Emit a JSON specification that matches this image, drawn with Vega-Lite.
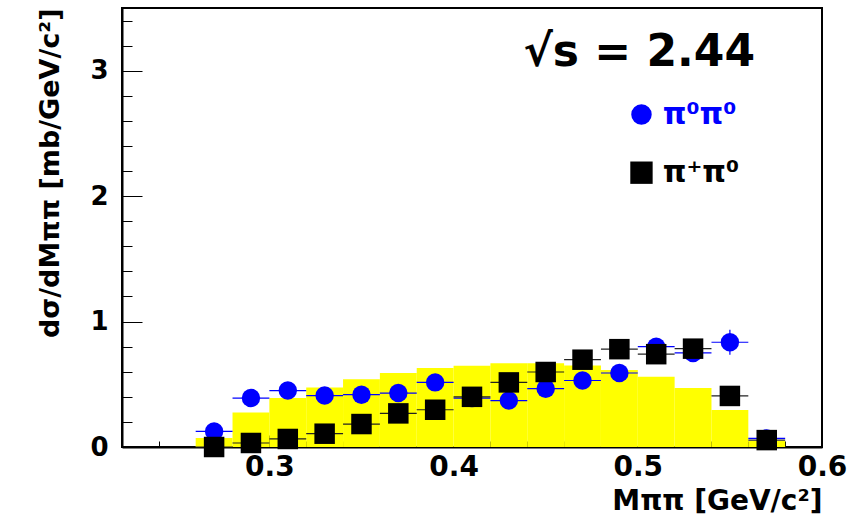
{
  "$schema": "https://vega.github.io/schema/vega-lite/v6.json",
  "width": 700,
  "height": 439,
  "autosize": {"type": "none"},
  "padding": {"left": 122, "top": 8, "right": 28, "bottom": 78},
  "background": "white",
  "config": {"view": {"stroke": "#000", "strokeWidth": 2}, "font": "DejaVu Sans"},
  "datasets": {
    "hist": [
      {"lo": 0.26, "hi": 0.28, "sim": 0.072},
      {"lo": 0.28, "hi": 0.30, "sim": 0.275},
      {"lo": 0.30, "hi": 0.32, "sim": 0.39},
      {"lo": 0.32, "hi": 0.34, "sim": 0.475},
      {"lo": 0.34, "hi": 0.36, "sim": 0.54},
      {"lo": 0.36, "hi": 0.38, "sim": 0.59},
      {"lo": 0.38, "hi": 0.40, "sim": 0.63},
      {"lo": 0.40, "hi": 0.42, "sim": 0.648},
      {"lo": 0.42, "hi": 0.44, "sim": 0.668},
      {"lo": 0.44, "hi": 0.46, "sim": 0.668},
      {"lo": 0.46, "hi": 0.48, "sim": 0.65},
      {"lo": 0.48, "hi": 0.50, "sim": 0.614},
      {"lo": 0.50, "hi": 0.52, "sim": 0.56},
      {"lo": 0.52, "hi": 0.54, "sim": 0.47},
      {"lo": 0.54, "hi": 0.56, "sim": 0.295},
      {"lo": 0.56, "hi": 0.58, "sim": 0.05}
    ],
    "neutral": [
      {"m": 0.27, "lo": 0.26, "hi": 0.28, "v": 0.124, "elo": 0.084, "ehi": 0.164},
      {"m": 0.29, "lo": 0.28, "hi": 0.30, "v": 0.39, "elo": 0.35, "ehi": 0.43},
      {"m": 0.31, "lo": 0.30, "hi": 0.32, "v": 0.45, "elo": 0.41, "ehi": 0.49},
      {"m": 0.33, "lo": 0.32, "hi": 0.34, "v": 0.41, "elo": 0.37, "ehi": 0.45},
      {"m": 0.35, "lo": 0.34, "hi": 0.36, "v": 0.417, "elo": 0.377, "ehi": 0.457},
      {"m": 0.37, "lo": 0.36, "hi": 0.38, "v": 0.43, "elo": 0.39, "ehi": 0.47},
      {"m": 0.39, "lo": 0.38, "hi": 0.40, "v": 0.515, "elo": 0.475, "ehi": 0.555},
      {"m": 0.41, "lo": 0.40, "hi": 0.42, "v": 0.39, "elo": 0.35, "ehi": 0.43},
      {"m": 0.43, "lo": 0.42, "hi": 0.44, "v": 0.37, "elo": 0.33, "ehi": 0.41},
      {"m": 0.45, "lo": 0.44, "hi": 0.46, "v": 0.465, "elo": 0.425, "ehi": 0.505},
      {"m": 0.47, "lo": 0.46, "hi": 0.48, "v": 0.53, "elo": 0.48, "ehi": 0.58},
      {"m": 0.49, "lo": 0.48, "hi": 0.50, "v": 0.59, "elo": 0.54, "ehi": 0.64},
      {"m": 0.51, "lo": 0.50, "hi": 0.52, "v": 0.80, "elo": 0.74, "ehi": 0.86},
      {"m": 0.53, "lo": 0.52, "hi": 0.54, "v": 0.75, "elo": 0.69, "ehi": 0.81},
      {"m": 0.55, "lo": 0.54, "hi": 0.56, "v": 0.835, "elo": 0.735, "ehi": 0.935},
      {"m": 0.57, "lo": 0.56, "hi": 0.58, "v": 0.068, "elo": 0.038, "ehi": 0.098}
    ],
    "charged": [
      {"m": 0.27, "lo": 0.26, "hi": 0.28, "v": 0.0, "elo": 0.0, "ehi": 0.02},
      {"m": 0.29, "lo": 0.28, "hi": 0.30, "v": 0.032, "elo": 0.012, "ehi": 0.052},
      {"m": 0.31, "lo": 0.30, "hi": 0.32, "v": 0.064, "elo": 0.044, "ehi": 0.084},
      {"m": 0.33, "lo": 0.32, "hi": 0.34, "v": 0.106, "elo": 0.08, "ehi": 0.132},
      {"m": 0.35, "lo": 0.34, "hi": 0.36, "v": 0.183, "elo": 0.153, "ehi": 0.213},
      {"m": 0.37, "lo": 0.36, "hi": 0.38, "v": 0.268, "elo": 0.238, "ehi": 0.298},
      {"m": 0.39, "lo": 0.38, "hi": 0.40, "v": 0.297, "elo": 0.267, "ehi": 0.327},
      {"m": 0.41, "lo": 0.40, "hi": 0.42, "v": 0.40, "elo": 0.37, "ehi": 0.43},
      {"m": 0.43, "lo": 0.42, "hi": 0.44, "v": 0.515, "elo": 0.485, "ehi": 0.545},
      {"m": 0.45, "lo": 0.44, "hi": 0.46, "v": 0.598, "elo": 0.568, "ehi": 0.628},
      {"m": 0.47, "lo": 0.46, "hi": 0.48, "v": 0.696, "elo": 0.666, "ehi": 0.726},
      {"m": 0.49, "lo": 0.48, "hi": 0.50, "v": 0.78, "elo": 0.75, "ehi": 0.81},
      {"m": 0.51, "lo": 0.50, "hi": 0.52, "v": 0.74, "elo": 0.71, "ehi": 0.77},
      {"m": 0.53, "lo": 0.52, "hi": 0.54, "v": 0.784, "elo": 0.754, "ehi": 0.814},
      {"m": 0.55, "lo": 0.54, "hi": 0.56, "v": 0.407, "elo": 0.377, "ehi": 0.437},
      {"m": 0.57, "lo": 0.56, "hi": 0.58, "v": 0.055, "elo": 0.035, "ehi": 0.075}
    ],
    "legend": [
      {"x": 0.502, "tx": 0.5135, "y": 2.65, "label": "π⁰π⁰", "series": "n"},
      {"x": 0.502, "tx": 0.5135, "y": 2.187, "label": "π⁺π⁰", "series": "c"}
    ],
    "ann": [
      {"x": 0.5008, "y": 3.04, "label": "√s = 2.44"}
    ]
  },
  "resolve": {"axis": {"x": "independent", "y": "independent"}},
  "layer": [
    {
      "data": {"name": "hist"},
      "mark": {"type": "rect", "color": "#ffff00"},
      "encoding": {
        "x": {
          "field": "lo", "type": "quantitative",
          "scale": {"domain": [0.22, 0.6], "nice": false, "zero": false},
          "axis": {
            "orient": "bottom", "values": [0.3, 0.4, 0.5, 0.6], "format": ".1f",
            "labelFont": "DejaVu Sans", "labelFontWeight": "bold", "labelFontSize": 28, "labelColor": "#000",
            "labelFlush": false, "labelOverlap": false, "labelPadding": 18,
            "tickSize": -12, "tickColor": "#000", "tickWidth": 1,
            "domainColor": "#000", "domainWidth": 2, "grid": false,
            "title": "Mππ [GeV/c²]", "titleFont": "DejaVu Sans", "titleFontWeight": "bold",
            "titleFontSize": 28, "titleColor": "#000", "titleAnchor": "end", "titlePadding": 6
          }
        },
        "x2": {"field": "hi"},
        "y": {
          "field": "sim", "type": "quantitative",
          "scale": {"domain": [0, 3.5], "nice": false, "zero": true},
          "axis": {
            "orient": "left", "values": [0, 1, 2, 3], "format": "d",
            "labelFont": "DejaVu Sans", "labelFontWeight": "bold", "labelFontSize": 26, "labelColor": "#000",
            "labelFlush": false, "labelOverlap": false, "labelPadding": 34,
            "tickSize": -20, "tickColor": "#000", "tickWidth": 1,
            "domainColor": "#000", "domainWidth": 2, "grid": false,
            "title": "dσ/dMππ [mb/GeV/c²]", "titleFont": "DejaVu Sans", "titleFontWeight": "bold",
            "titleFontSize": 27, "titleColor": "#000", "titleAnchor": "end", "titlePadding": 25
          }
        },
        "y2": {"datum": 0}
      }
    },
    {
      "data": {"name": "neutral"},
      "mark": {"type": "rule", "color": "#0000ff", "strokeWidth": 1.2},
      "encoding": {
        "x": {
          "field": "lo", "type": "quantitative",
          "axis": {
            "orient": "bottom", "values": [0.24, 0.26, 0.28, 0.32, 0.34, 0.36, 0.38, 0.42, 0.44, 0.46, 0.48, 0.52, 0.54, 0.56, 0.58],
            "labels": false, "domain": false, "grid": false, "title": null,
            "tickSize": -6, "tickColor": "#000", "tickWidth": 1
          }
        },
        "x2": {"field": "hi"},
        "y": {
          "field": "v", "type": "quantitative",
          "axis": {
            "orient": "left", "values": [0.2, 0.4, 0.6, 0.8, 1.2, 1.4, 1.6, 1.8, 2.2, 2.4, 2.6, 2.8, 3.2, 3.4],
            "labels": false, "domain": false, "grid": false, "title": null,
            "tickSize": -10, "tickColor": "#000", "tickWidth": 1
          }
        }
      }
    },
    {
      "data": {"name": "neutral"},
      "mark": {"type": "rule", "color": "#0000ff", "strokeWidth": 1.2},
      "encoding": {
        "x": {"field": "m", "type": "quantitative", "axis": null},
        "y": {"field": "elo", "type": "quantitative", "axis": null},
        "y2": {"field": "ehi"}
      }
    },
    {
      "data": {"name": "neutral"},
      "mark": {"type": "point", "shape": "circle", "filled": true, "color": "#0000ff", "opacity": 1, "size": 340},
      "encoding": {
        "x": {"field": "m", "type": "quantitative", "axis": null},
        "y": {"field": "v", "type": "quantitative", "axis": null}
      }
    },
    {
      "data": {"name": "charged"},
      "mark": {"type": "rule", "color": "#222", "strokeWidth": 1.2},
      "encoding": {
        "x": {"field": "lo", "type": "quantitative", "axis": null},
        "x2": {"field": "hi"},
        "y": {"field": "v", "type": "quantitative", "axis": null}
      }
    },
    {
      "data": {"name": "charged"},
      "mark": {"type": "rule", "color": "#222", "strokeWidth": 1.2},
      "encoding": {
        "x": {"field": "m", "type": "quantitative", "axis": null},
        "y": {"field": "elo", "type": "quantitative", "axis": null},
        "y2": {"field": "ehi"}
      }
    },
    {
      "data": {"name": "charged"},
      "mark": {"type": "point", "shape": "square", "filled": true, "color": "#000", "opacity": 1, "size": 420},
      "encoding": {
        "x": {"field": "m", "type": "quantitative", "axis": null},
        "y": {"field": "v", "type": "quantitative", "axis": null}
      }
    },
    {
      "data": {"name": "legend"},
      "transform": [{"filter": "datum.series === 'n'"}],
      "mark": {"type": "point", "shape": "circle", "filled": true, "color": "#0000ff", "opacity": 1, "size": 420},
      "encoding": {
        "x": {"field": "x", "type": "quantitative", "axis": null},
        "y": {"field": "y", "type": "quantitative", "axis": null}
      }
    },
    {
      "data": {"name": "legend"},
      "transform": [{"filter": "datum.series === 'c'"}],
      "mark": {"type": "point", "shape": "square", "filled": true, "color": "#000", "opacity": 1, "size": 500},
      "encoding": {
        "x": {"field": "x", "type": "quantitative", "axis": null},
        "y": {"field": "y", "type": "quantitative", "axis": null}
      }
    },
    {
      "data": {"name": "legend"},
      "mark": {"type": "text", "align": "left", "baseline": "middle", "font": "DejaVu Sans", "fontWeight": "bold", "fontSize": 30},
      "encoding": {
        "x": {"field": "tx", "type": "quantitative", "axis": null},
        "y": {"field": "y", "type": "quantitative", "axis": null},
        "text": {"field": "label"},
        "color": {"condition": {"test": "datum.series === 'n'", "value": "#0000ff"}, "value": "#000"}
      }
    },
    {
      "data": {"name": "ann"},
      "mark": {"type": "text", "align": "center", "baseline": "alphabetic", "font": "DejaVu Sans", "fontWeight": "bold", "fontSize": 44, "color": "#000"},
      "encoding": {
        "x": {"field": "x", "type": "quantitative", "axis": null},
        "y": {"field": "y", "type": "quantitative", "axis": null},
        "text": {"field": "label"}
      }
    }
  ]
}
